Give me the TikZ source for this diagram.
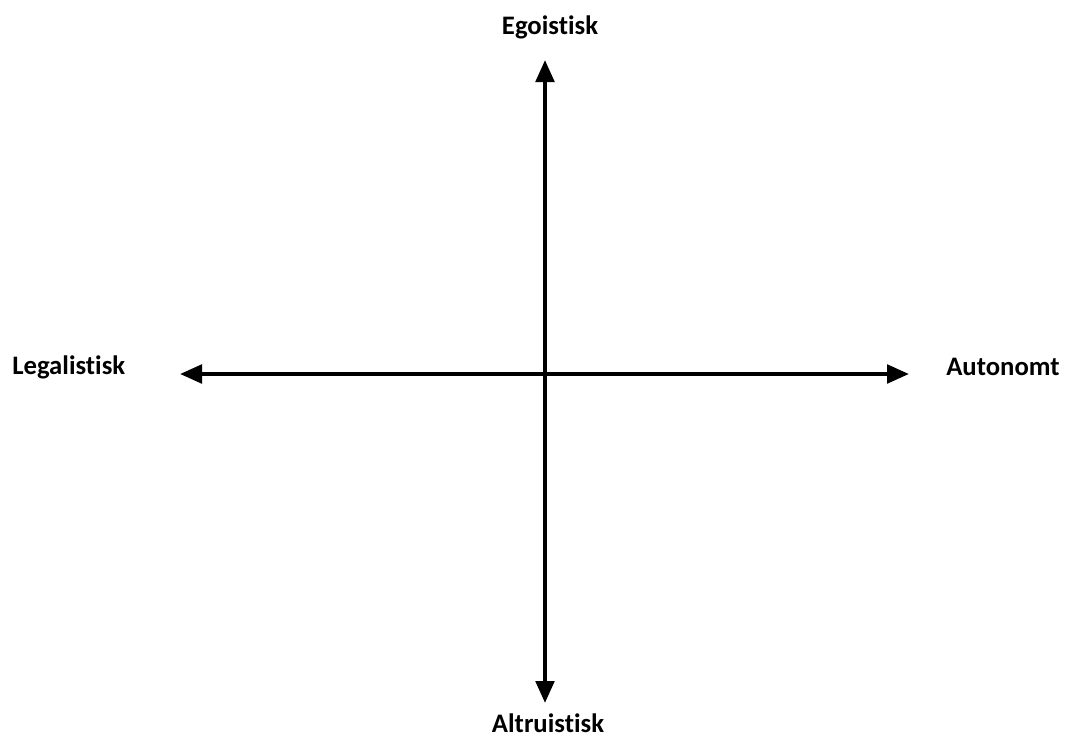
\documentclass[tikz,border=0pt]{standalone}
\usepackage{fontspec}
\setmainfont{Carlito}[Ligatures={NoCommon}]
\usetikzlibrary{arrows.meta}
\begin{document}
\begin{tikzpicture}[x=0.025cm, y=-0.025cm, >={Triangle[length=0.55cm, width=0.46cm]},
    axis/.style={<->, line width=2.9pt},
    lbl/.style={font=\fontsize{19}{22}\selectfont\bfseries, text=black, inner sep=0pt}]
    \useasboundingbox (0,0) rectangle (1066,737);
    % Axis ends
    \coordinate (top) at (545,60);
    \coordinate (bottom) at (545,703);
    \coordinate (left) at (180,374);
    \coordinate (right) at (909,374);
    % Labels
    \node[lbl] (ego) at (550,27) {Egoistisk};
    \node[lbl] (altru) at (548,723) {Altruistisk};
    \node[lbl, anchor=west] (legal) at (12,367) {Legalistisk};
    \node[lbl, anchor=west] (auto) at (946,367) {Autonomt};
    % Axes
    \draw[axis] (bottom) -- (top);
    \draw[axis] (left) -- (right);
\end{tikzpicture}
\end{document}
